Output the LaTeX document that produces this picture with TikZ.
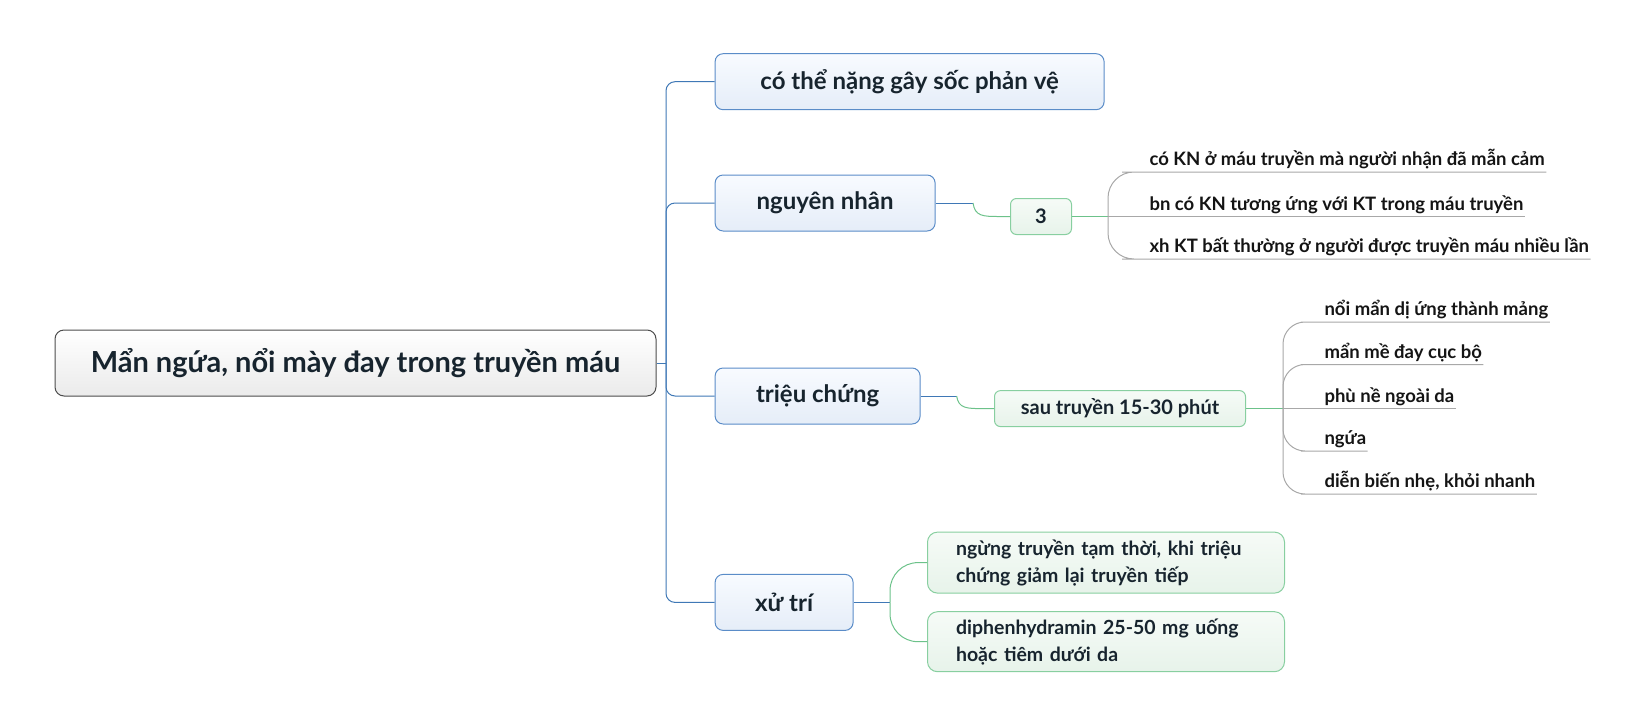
\documentclass[tikz,border=0pt]{standalone}
\usepackage{fontspec}
\setmainfont{Lato}

\definecolor{topicblue}{HTML}{5A8CC8}
\definecolor{linkblue}{HTML}{3F78B6}
\definecolor{subgreen}{HTML}{88CFA0}
\definecolor{linkgreen}{HTML}{6CC28A}
\definecolor{leafgray}{HTML}{A8A8A8}
\definecolor{inkdark}{HTML}{17242E}
\definecolor{bluetop}{HTML}{F8FBFF}
\definecolor{bluebot}{HTML}{E5EDF8}
\definecolor{greentop}{HTML}{F6FBF7}
\definecolor{greenbot}{HTML}{E7F3EA}

\tikzset{
  central/.style={draw=black!70, rounded corners=9pt, top color=white, bottom color=black!8,
    minimum width=601pt, minimum height=66pt, text=inkdark,
    font=\fontsize{29}{34}\selectfont\bfseries},
  topic/.style={draw=topicblue, rounded corners=8pt, top color=bluetop, bottom color=bluebot,
    anchor=west, minimum height=56pt, text=inkdark,
    font=\fontsize{24}{28}\selectfont\bfseries},
  subtopic/.style={draw=subgreen, rounded corners=6pt, top color=greentop, bottom color=greenbot,
    anchor=west, minimum height=36pt, text=inkdark,
    font=\fontsize{20}{24}\selectfont\bfseries},
  notebox/.style={subtopic, rounded corners=10pt, align=left, inner xsep=28.5pt, text width=300pt,
    font=\fontsize{19.5}{27}\selectfont\bfseries},
  leaf/.style={anchor=south west, inner xsep=1pt, inner ysep=2pt, text height=14pt, text depth=4pt,
    text=black!92, font=\fontsize{18.5}{22}\selectfont\bfseries},
}

\begin{document}
\begin{tikzpicture}[x=1pt, y=-1pt, line width=1pt]
  \useasboundingbox (0,0) rectangle (1643,726);

  % central topic and main branches
  \node[central] (root) at (355.5,363) {Mẩn ngứa, nổi mày đay trong truyền máu};
  \coordinate (hub) at (666,363);

  \node[topic, minimum width=389pt] (shock) at (714.6,81.7) {có thể nặng gây sốc phản vệ};
  \node[topic, minimum width=220pt] (cause) at (714.6,203) {nguyên nhân};
  \node[topic, minimum width=205pt] (sign) at (714.6,396) {triệu chứng};
  \node[topic, minimum width=138pt] (treat) at (714.6,602.4) {xử trí};

  \draw[linkblue] (root.east) -- (hub);
  \draw[linkblue, rounded corners=9pt] (hub) |- (shock.west);
  \draw[linkblue, rounded corners=9pt] (hub) |- (cause.west);
  \draw[linkblue, rounded corners=9pt] (hub) |- (sign.west);
  \draw[linkblue, rounded corners=9pt] (hub) |- (treat.west);

  % nguyen nhan
  \node[subtopic, minimum width=61pt] (three) at (1010,216.5) {3};
  \coordinate (c1) at (973,203);
  \coordinate (c2) at (1108,216.5);
  \draw[linkblue] (cause.east) -- (c1);
  \draw[linkgreen] (c1) .. controls (975,216.5) and (983,216.5) .. (1000,216.5) -- (three.west);
  \draw[linkgreen] (three.east) -- (c2);

  \node[leaf] (ag) at (1148,172) {có KN ở máu truyền mà người nhận đã mẫn cảm};
  \node[leaf] (ab) at (1148,216.5) {bn có KN tương ứng với KT trong máu truyền};
  \node[leaf] (ar) at (1148,259) {xh KT bất thường ở người được truyền máu nhiều lần};
  \draw[leafgray, rounded corners=26pt] (c2) |- (ag.south west) -- (ag.south east);
  \draw[leafgray] (c2) -- (ab.south west) -- (ab.south east);
  \draw[leafgray, rounded corners=26pt] (c2) |- (ar.south west) -- (ar.south east);

  % trieu chung
  \node[subtopic, minimum width=251pt] (onset) at (994,408.6) {sau truyền 15-30 phút};
  \coordinate (s1) at (956.6,396);
  \coordinate (s2) at (1283,408.6);
  \draw[linkblue] (sign.east) -- (s1);
  \draw[linkgreen] (s1) .. controls (958.6,408.6) and (966.6,408.6) .. (983.6,408.6) -- (onset.west);
  \draw[linkgreen] (onset.east) -- (s2);

  \node[leaf] (rash) at (1323,322) {nổi mẩn dị ứng thành mảng};
  \node[leaf] (hive) at (1323,364.5) {mẩn mề đay cục bộ};
  \node[leaf] (edema) at (1323,408.6) {phù nề ngoài da};
  \node[leaf] (itch) at (1323,451) {ngứa};
  \node[leaf] (mild) at (1323,494) {diễn biến nhẹ, khỏi nhanh};
  \draw[leafgray, rounded corners=22pt] (s2) |- (rash.south west) -- (rash.south east);
  \draw[leafgray, rounded corners=22pt] (s2) |- (hive.south west) -- (hive.south east);
  \draw[leafgray] (s2) -- (edema.south west) -- (edema.south east);
  \draw[leafgray, rounded corners=22pt] (s2) |- (itch.south west) -- (itch.south east);
  \draw[leafgray, rounded corners=22pt] (s2) |- (mild.south west) -- (mild.south east);

  % xu tri
  \node[notebox, minimum height=61pt] (stop) at (927,562.6)
    {ngừng truyền tạm thời, khi triệu\\chứng giảm lại truyền tiếp};
  \node[notebox, minimum height=60pt] (drug) at (927,641.7)
    {diphenhydramin 25-50 mg uống\\hoặc tiêm dưới da};
  \coordinate (t1) at (890,602.4);
  \draw[linkblue] (treat.east) -- (t1);
  \draw[linkgreen, rounded corners=28pt] (t1) |- (stop.west);
  \draw[linkgreen, rounded corners=28pt] (t1) |- (drug.west);
\end{tikzpicture}
\end{document}
